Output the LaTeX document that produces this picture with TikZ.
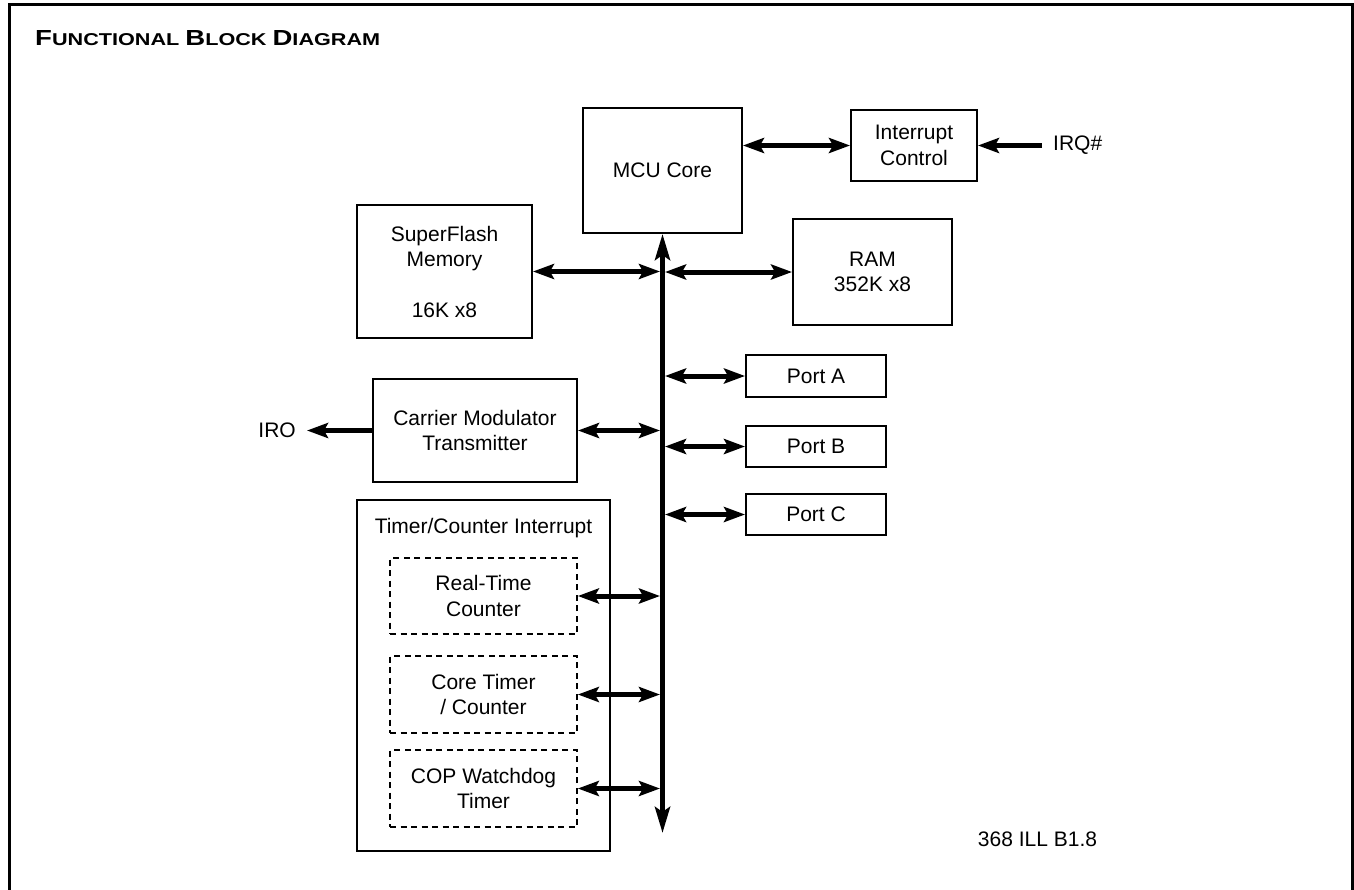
\documentclass[tikz,border=0pt]{standalone}
\usepackage{fontspec}
\usepackage{graphicx}
\setmainfont{Liberation Sans}
\usetikzlibrary{arrows.meta}
\newcommand{\fsz}{\fontsize{21pt}{25.5pt}\selectfont}
\newcommand{\bigc}{\fontsize{21pt}{21pt}\selectfont}
\newcommand{\smc}{\fontsize{16.5pt}{16.5pt}\selectfont}
\tikzset{
  blk/.style={draw, line width=1.9pt, inner sep=0pt, align=center, font=\fsz},
  dblk/.style={blk, dash pattern=on 6pt off 4.5pt, line width=1.6pt},
  lbl/.style={inner sep=0pt, align=center, font=\fsz},
  link/.style={line width=5pt, >={Stealth[length=21pt,width=15pt,inset=4pt]}, <->},
  onew/.style={line width=5.5pt, >={Stealth[length=21pt,width=15pt,inset=4pt]}, ->},
  busline/.style={line width=5pt, >={Stealth[length=26pt,width=15pt,inset=5pt]}, <->},
}
\begin{document}
\begin{tikzpicture}[x=1pt,y=-1pt]
\useasboundingbox (0,0) rectangle (1354,889);
% frame
\draw[line width=3pt] (9.5,895) -- (9.5,4.5) -- (1352,4.5) -- (1352,895);
% title
\node[anchor=base west, inner sep=0pt] (title) at (35,45)
  {\resizebox{345pt}{15pt}{\bfseries\bigc F\smc UNCTIONAL \bigc B\smc LOCK \bigc D\smc IAGRAM}};

% blocks
\node[blk, minimum width=159pt, minimum height=125pt] (mcu) at (662.5,170.5) {MCU Core};
\node[blk, minimum width=126pt, minimum height=71pt] (intr) at (914,145.5) {Interrupt\\Control};
\node[blk, minimum width=175pt, minimum height=133pt] (flash) at (444.5,271.5) {SuperFlash\\Memory\\[25pt]16K x8};
\node[blk, minimum width=159pt, minimum height=106pt] (ram) at (872.5,272) {RAM\\352K x8};
\node[blk, minimum width=204pt, minimum height=103pt] (cmt) at (475,430.5) {Carrier Modulator\\Transmitter};
\node[blk, minimum width=140pt, minimum height=42pt] (porta) at (816,376) {Port A};
\node[blk, minimum width=140pt, minimum height=41pt] (portb) at (816,446.5) {Port B};
\node[blk, minimum width=140pt, minimum height=41pt] (portc) at (816,514.5) {Port C};
\node[blk, minimum width=253pt, minimum height=351pt] (tci) at (483.5,675.5) {};
\node[lbl] (tcitext) at (483.5,528) {Timer/Counter Interrupt};
\node[dblk, minimum width=187pt, minimum height=76pt] (rtc) at (483.5,596) {Real-Time\\Counter};
\node[dblk, minimum width=187pt, minimum height=77pt] (ctc) at (483.5,694.5) {Core Timer\\/ Counter};
\node[dblk, minimum width=187pt, minimum height=77pt] (cop) at (483.5,788.5) {COP Watchdog\\Timer};

% external labels
\node[lbl, anchor=west] (irq) at (1053,145.5) {IRQ\#};
\node[lbl, anchor=east] (iro) at (296,430.5) {IRO};
\node[lbl] (ill) at (1037.5,839) {368 ILL B1.8};

% bus
\coordinate (busbot) at (662.5,833);
\draw[busline] (mcu.south) -- (busbot);

% bus taps
\coordinate (bL1) at (660,271.5);
\coordinate (bR1) at (665,272);
\coordinate (bL2) at (660,430.5);
\coordinate (bR3) at (665,376);
\coordinate (bR4) at (665,446.5);
\coordinate (bR5) at (665,514.5);
\coordinate (bL6) at (660,596);
\coordinate (bL7) at (660,694.5);
\coordinate (bL8) at (660,788.5);

\draw[link] (intr.west -| mcu.east) -- (intr.west);
\draw[link] (flash.east) -- (bL1);
\draw[link] (bR1) -- (ram.west);
\draw[link] (cmt.east) -- (bL2);
\draw[link] (bR3) -- (porta.west);
\draw[link] (bR4) -- (portb.west);
\draw[link] (bR5) -- (portc.west);
\draw[link] (rtc.east) -- (bL6);
\draw[link] (ctc.east) -- (bL7);
\draw[link] (cop.east) -- (bL8);

% one-way arrows
\coordinate (irqstart) at (1042,145.5);
\coordinate (iroend) at (307,430.5);
\draw[onew] (irqstart) -- (intr.east);
\draw[onew] (cmt.west) -- (iroend);
\end{tikzpicture}
\end{document}
